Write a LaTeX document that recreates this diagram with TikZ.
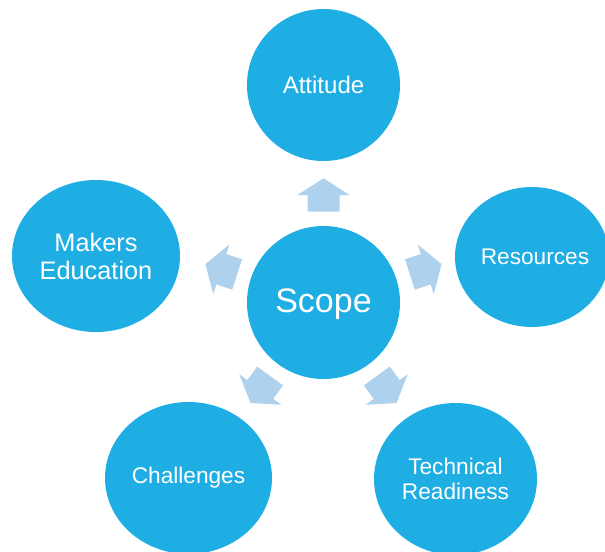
\documentclass[tikz,border=0pt]{standalone}
\usepackage{fontspec}
\usetikzlibrary{shapes.geometric}
\setmainfont{Liberation Sans}
\definecolor{bubble}{RGB}{31,174,228}
\definecolor{pointer}{RGB}{174,210,238}
\begin{document}
\begin{tikzpicture}[x=0.75pt,y=-0.75pt,
  bubble/.style={ellipse, fill=bubble, text=white, align=center, inner sep=0pt,
    font=\fontsize{17}{19}\selectfont},
  pointer/.style={fill=pointer}]
\useasboundingbox (0,0) rectangle (605,551);
\clip (0,0) rectangle (605,551);
% outer topics
\node[bubble, minimum width=153*0.75pt, minimum height=152*0.75pt,
      font=\fontsize{18}{20}\selectfont] (att) at (323.5,85) {Attitude};
\node[bubble, minimum width=168*0.75pt, minimum height=152*0.75pt,
      font=\fontsize{19}{21}\selectfont] (mak) at (96,256) {Makers\\Education};
\node[bubble, minimum width=154*0.75pt, minimum height=140*0.75pt] (res) at (532,257) {};
\node[text=white, font=\fontsize{17}{19}\selectfont] (restxt) at (535,257) {Resources};
\node[bubble, minimum width=167*0.75pt, minimum height=152*0.75pt] (cha) at (188.5,478) {Challenges};
\node[bubble, minimum width=163*0.75pt, minimum height=152*0.75pt] (tec) at (455.5,479) {Technical\\Readiness};
% centre
\node[bubble, minimum width=153*0.75pt, minimum height=153*0.75pt] (sco) at (323.5,302.5) {};
\node[text=white, font=\fontsize{25.5}{28}\selectfont] (scotxt) at (323.5,304) {Scope};
% block arrows pointing outward from the centre
\foreach \a in {90,18,-54,-126,162}{
  \fill[pointer, shift={(sco.center)}, rotate=\a]
    (90.8,-16) -- (107.5,-16) -- (107.5,-26) -- (124.2,0) -- (107.5,26)
    -- (107.5,16) -- (90.8,16) -- cycle;
}
\end{tikzpicture}
\end{document}
